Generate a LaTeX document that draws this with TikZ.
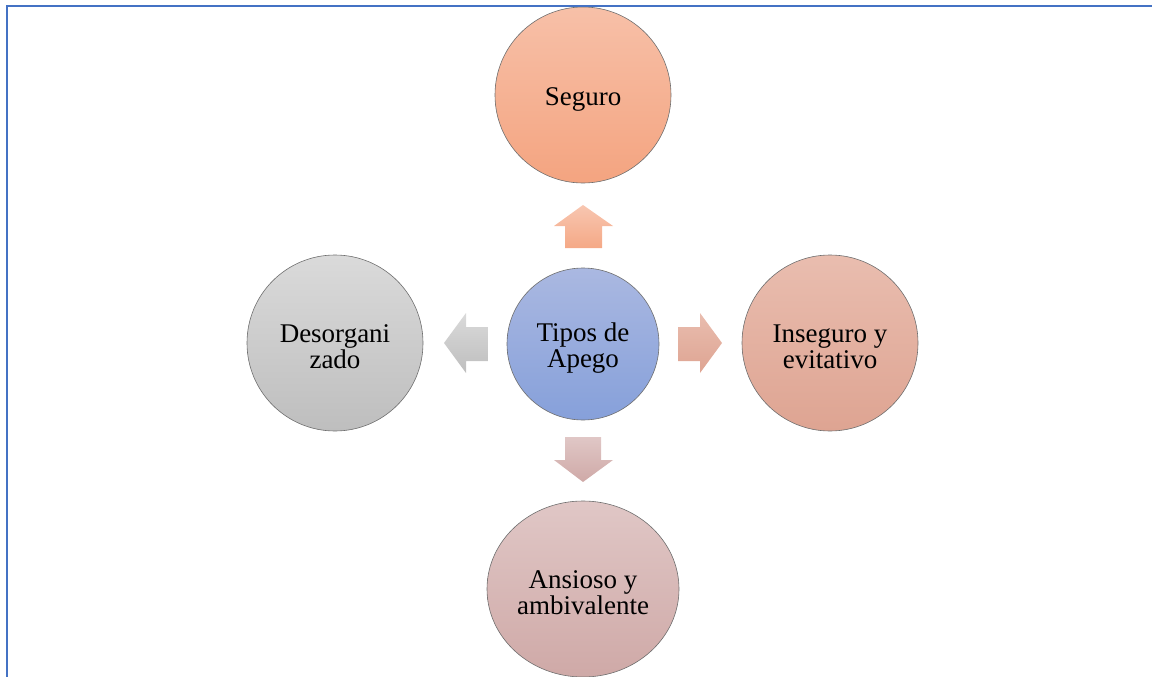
\documentclass[tikz,border=0pt]{standalone}
\usepackage{fontspec}
\setmainfont{Liberation Serif}
\usetikzlibrary{shapes.geometric}

\definecolor{frameblue}{RGB}{68,114,196}
\definecolor{rimgray}{RGB}{110,110,110}
\definecolor{segTop}{RGB}{247,192,168}
\definecolor{segBot}{RGB}{244,164,128}
\definecolor{tipTop}{RGB}{170,184,225}
\definecolor{tipBot}{RGB}{134,160,218}
\definecolor{insTop}{RGB}{233,189,175}
\definecolor{insBot}{RGB}{222,164,146}
\definecolor{desTop}{RGB}{218,218,218}
\definecolor{desBot}{RGB}{190,190,190}
\definecolor{ansTop}{RGB}{224,199,198}
\definecolor{ansBot}{RGB}{207,169,167}

\tikzset{
  bubble/.style={circle, minimum size=176pt, inner sep=0pt, draw=rimgray,
    line width=0.6pt},
  hub/.style={bubble, minimum size=152pt},
  caption/.style={align=center, font=\fontsize{27}{26}\selectfont},
  blockarrow/.style={draw=none},
  frameline/.style={draw=frameblue, line width=2.5pt}
}

\begin{document}
\begin{tikzpicture}[x=1pt,y=-1pt]
\useasboundingbox (0,0) rectangle (1152,677);

% central hub and the four attachment types
\node[hub, top color=tipTop, bottom color=tipBot] (hub) at (583,344) {};
\node[bubble, top color=segTop, bottom color=segBot] (seg) at (583,95) {};
\node[bubble, top color=insTop, bottom color=insBot] (ins) at (830,343) {};
\node[bubble, top color=desTop, bottom color=desBot] (des) at (335,343) {};
\node[bubble, ellipse, minimum width=192pt, minimum height=176pt,
      top color=ansTop, bottom color=ansBot] (ans) at (583,589) {};

% labels, set slightly below the geometric centres
\node[caption] (hubtext) at ([yshift=-4pt]hub.center) {Tipos de\\Apego};
\node[caption] (segtext) at ([yshift=-4pt]seg.center) {Seguro};
\node[caption] (instext) at ([yshift=-4pt]ins.center) {Inseguro y\\evitativo};
\node[caption] (destext) at ([yshift=-4pt]des.center) {Desorgani\\zado};
\node[caption] (anstext) at ([yshift=-4pt]ans.center) {Ansioso y\\ambivalente};

% block arrows pointing outward from the hub
\path[blockarrow, top color=segTop!90, bottom color=segBot!95]
  (565,248) -- (565,226) -- (554,226) -- (583,205) -- (613,226) -- (602,226) -- (602,248) -- cycle;
\path[blockarrow, top color=insTop, bottom color=insBot]
  (678,327) -- (700,327) -- (700,313) -- (722,343) -- (700,373) -- (700,361) -- (678,361) -- cycle;
\path[blockarrow, top color=ansTop, bottom color=ansBot]
  (565,437) -- (601,437) -- (601,460) -- (613,460) -- (583,482) -- (554,460) -- (565,460) -- cycle;
\path[blockarrow, top color=desTop, bottom color=desBot]
  (488,327) -- (466,327) -- (466,313) -- (444,343) -- (466,373) -- (466,361) -- (488,361) -- cycle;

% page frame
\draw[frameline] (7,677) -- (7,6) -- (1152,6);
\end{tikzpicture}
\end{document}
